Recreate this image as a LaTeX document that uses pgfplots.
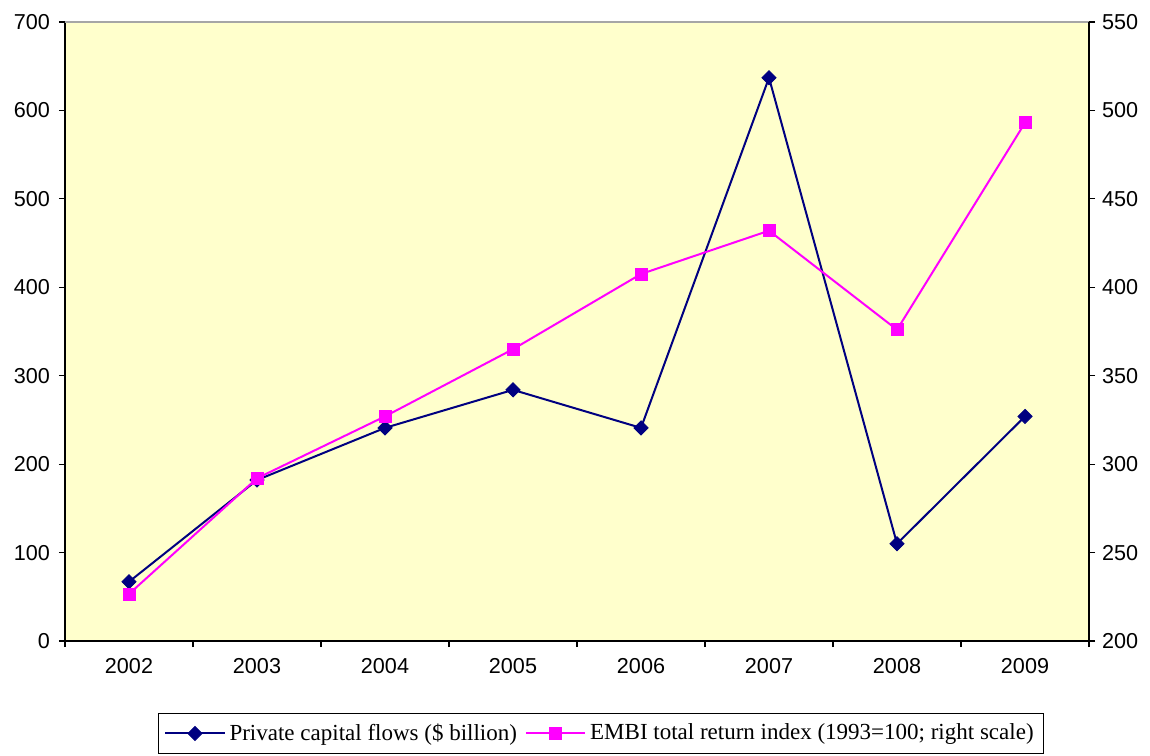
\documentclass[border=0pt]{standalone}
\usepackage{pgfplots}
\pgfplotsset{compat=1.18}
\usepackage{fontspec}
\setmainfont{Liberation Serif}
\newfontfamily\arialf{Liberation Sans}
\definecolor{navyc}{HTML}{000080}
\definecolor{magc}{HTML}{FF00FF}
\definecolor{bgc}{HTML}{FFFFCC}
\begin{document}
\begin{tikzpicture}
\pgfplotsset{
  every axis/.append style={
    scale only axis, width=512pt, height=309.5pt,
    xmin=-0.5, xmax=7.5,
    tick label style={font=\arialf\fontsize{10.8}{12}\selectfont},
    /pgf/number format/assume math mode=true,
    tick align=outside, major tick length=3pt, minor tick length=3pt,
    tick style={black, line width=0.6pt},
    axis line style={black, line width=0.8pt},
  }
}
\begin{axis}[
  axis background/.style={fill=bgc},
  axis x line*=bottom, axis y line*=left,
  ymin=0, ymax=700, ytick={0,100,...,700},
  xtick={0,...,7}, xticklabels={2002,2003,2004,2005,2006,2007,2008,2009},
  major x tick style={draw=none},
  minor xtick={-0.5,0.5,...,7.5},
  minor x tick style={draw=black, line width=0.6pt},
  xticklabel style={yshift=-2pt},
  yticklabel style={xshift=-1pt},
  scaled y ticks=false,
]
\addplot[color=navyc, line width=1pt, mark=square*, mark size=2.5pt, mark options={rotate=45, fill=navyc, draw=navyc, line width=0.4pt}]
coordinates {(0,67) (1,182) (2,241) (3,284) (4,241) (5,637) (6,110) (7,254)};
\draw[gray!70, line width=0.8pt] (rel axis cs:0,1) -- (rel axis cs:1,1);
\coordinate (SW) at (rel axis cs:0,0);
\coordinate (NE) at (rel axis cs:1,1);
\end{axis}
\begin{axis}[
  axis x line=none, axis y line*=right,
  ymin=200, ymax=550, ytick={200,250,...,550},
  legend style={at={(axis description cs:0.5,0)}, anchor=north, yshift=-36pt, xshift=12pt,
    draw=black, line width=0.6pt, legend columns=2, font=\fontsize{11.5}{13}\selectfont,
    inner xsep=3pt, inner ysep=3pt,
    /tikz/every even column/.append style={column sep=2pt}},
  legend cell align=left,
  legend image code/.code={\draw[mark repeat=2,mark phase=2] plot coordinates {(0cm,0cm)(0.52cm,0cm)(1.04cm,0cm)};},
]
\addlegendimage{color=navyc, line width=1pt, mark=square*, mark size=2.5pt, mark options={rotate=45, fill=navyc, draw=navyc, line width=0.4pt}}
\addlegendentry{Private capital flows (\$ billion)}
\addplot[color=magc, line width=1pt, mark=square*, mark size=3pt, mark options={fill=magc, draw=magc, line width=0.4pt}]
coordinates {(0,226.6) (1,292) (2,327) (3,365) (4,407.5) (5,432) (6,376) (7,493)};
\addlegendentry{EMBI total return index (1993=100; right scale)}
\end{axis}
\pgfresetboundingbox
\path ([shift={(-32.5pt,-57pt)}]SW) rectangle ([shift={(30.5pt,11pt)}]NE);
\end{tikzpicture}
\end{document}
